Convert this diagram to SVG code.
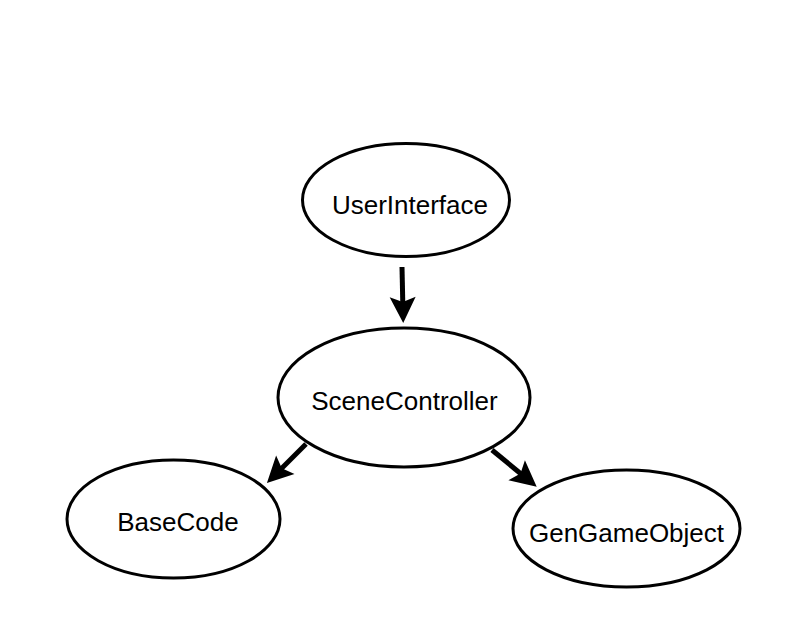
<svg xmlns="http://www.w3.org/2000/svg" width="801" height="620" viewBox="0 0 801 620">
  <style>
    .node ellipse { fill: #ffffff; stroke: #000000; stroke-width: 3; }
    .node text { font-family: "Liberation Sans", Arial, sans-serif; font-size: 26px; fill: #000000; text-anchor: middle; }
    .edge { fill: none; stroke: #000000; stroke-width: 5; }
  </style>
  <defs>
    <marker id="arrow" markerUnits="userSpaceOnUse" markerWidth="28" markerHeight="28" refX="16" refY="13" orient="auto" overflow="visible">
      <path d="M0,0 L26,13 L0,26 L5,13 Z" fill="#000000"/>
    </marker>
  </defs>
  <rect width="801" height="620" fill="#ffffff"/>
  <g id="connectors">
    <path class="edge" d="M402,267 L403,313" marker-end="url(#arrow)"/>
    <path class="edge" d="M306,444 L274,476" marker-end="url(#arrow)"/>
    <path class="edge" d="M492,450 L529,480.5" marker-end="url(#arrow)"/>
  </g>
  <g id="UserInterface" class="node">
    <ellipse cx="406" cy="200" rx="103.5" ry="56.5"/>
    <text x="410" y="214">UserInterface</text>
  </g>
  <g id="SceneController" class="node">
    <ellipse cx="404" cy="397.5" rx="126" ry="69.5"/>
    <text x="404.5" y="410">SceneController</text>
  </g>
  <g id="BaseCode" class="node">
    <ellipse cx="173.5" cy="519" rx="106.5" ry="59"/>
    <text x="178" y="531">BaseCode</text>
  </g>
  <g id="GenGameObject" class="node">
    <ellipse cx="626.5" cy="528.5" rx="113.5" ry="58.5"/>
    <text x="626.5" y="542">GenGameObject</text>
  </g>
</svg>
